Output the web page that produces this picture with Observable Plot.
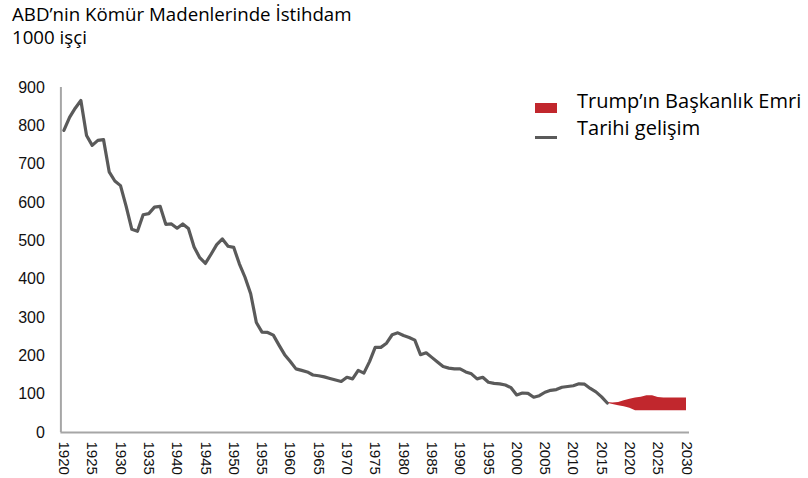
<!DOCTYPE html>
<html>
<head>
<meta charset="utf-8">
<script src="https://cdn.jsdelivr.net/npm/d3@7"></script>
<script src="https://cdn.jsdelivr.net/npm/@observablehq/plot@0.6"></script>
<style>
  html, body { margin: 0; padding: 0; background: #fff; }
  #wrap { position: relative; width: 808px; height: 478px; overflow: hidden; }
  #title { height: 60px; box-sizing: border-box; padding: 2px 0 0 12px; font-family: "Open Sans", sans-serif; font-size: 18.7px; line-height: 23px; color: #000; }
  #legend { position: absolute; left: 0; top: 0; pointer-events: none; }
</style>
</head>
<body>
<div id="wrap">
  <div id="title">ABD’nin Kömür Madenlerinde İstihdam<br>1000 işçi</div>
  <div id="chart"></div>
  <svg id="legend" width="808" height="478"></svg>
</div>
<script>
// Historical coal mining employment (thousands), 1920–2016
const histYears = d3.range(1920, 2017);
const histValues = [
  788, 822, 846, 866, 775, 749, 762, 764, 680, 656,
  644, 590, 530, 525, 568, 571, 588, 590, 543, 544,
  533, 544, 532, 484, 456, 441, 465, 490, 505, 486,
  483, 440, 405, 362, 287, 262, 261, 254, 228, 203,
  185, 166, 162, 158, 150, 148, 145, 141, 137, 133,
  144, 140, 162, 155, 185, 222, 222, 233, 255, 260,
  253, 248, 241, 203, 208, 196, 184, 172, 168, 166,
  166, 158, 153, 140, 144, 131, 128, 127, 124, 117,
  98, 103, 102, 92, 96, 105, 110, 112, 118, 120,
  122, 127, 126, 115, 106, 93, 77
];
// Projection band under the executive order
const bandYears = [2016, 2017, 2018, 2019, 2020, 2021, 2022, 2023, 2024, 2025, 2026, 2027, 2028, 2029, 2030];
const bandLow   = [76, 73, 70, 67, 63, 57, 57, 57, 57, 57, 57, 57, 57, 57, 57];
const bandHigh  = [78, 77, 78, 83, 87, 90, 92, 96, 96, 91, 90, 90, 90, 90, 90];
const yTicks = [0, 100, 200, 300, 400, 500, 600, 700, 800, 900];
const xTicks = [1920, 1925, 1930, 1935, 1940, 1945, 1950, 1955, 1960, 1965, 1970, 1975, 1980, 1985, 1990, 1995, 2000, 2005, 2010, 2015, 2020, 2025, 2030];
const legendLabels = ["Trump’ın Başkanlık Emri", "Tarihi gelişim"];

const hist = histYears.map((year, i) => ({year, value: histValues[i]}));
const band = bandYears.map((year, i) => ({year, low: bandLow[i], high: bandHigh[i]}));

const axisColor = "#a6a6a6";
const lineColor = "#5a5a5a";
const red = "#c1272d";

const chart = Plot.plot({
  width: 808,
  height: 418,
  marginTop: 27,
  marginBottom: 46,
  marginLeft: 63.4,
  marginRight: 122,
  style: {fontFamily: "'Liberation Sans', Arial, sans-serif", color: "#111", background: "#fff"},
  x: {domain: [1920, 2030]},
  y: {domain: [0, 900]},
  marks: [
    Plot.axisY({ticks: yTicks, tickSize: 0, tickPadding: 19, fontSize: 16, label: null}),
    Plot.axisX({ticks: xTicks, tickSize: 0, tickPadding: 9, tickRotate: 90, fontSize: 15, label: null, tickFormat: d => String(d)}),
    Plot.ruleY([0], {stroke: axisColor, strokeWidth: 2, insetLeft: -3, insetRight: -3}),
    Plot.ruleX([1920], {y1: 0, y2: 900, dx: -3, stroke: axisColor, strokeWidth: 2}),
    Plot.areaY(band, {x: "year", y1: "low", y2: "high", fill: red}),
    Plot.lineY(hist, {x: "year", y: "value", stroke: lineColor, strokeWidth: 3.2, strokeLinejoin: "round"})
  ]
});
document.getElementById("chart").appendChild(chart);

// Legend overlay
const lg = d3.select("#legend");
lg.append("rect").attr("x", 535).attr("y", 103).attr("width", 22).attr("height", 10).attr("fill", red);
lg.append("rect").attr("x", 535).attr("y", 136).attr("width", 22).attr("height", 3).attr("fill", lineColor);
lg.selectAll("text.lab").data(legendLabels).join("text")
  .attr("class", "lab")
  .attr("x", 577)
  .attr("y", (d, i) => i === 0 ? 108 : 135)
  .attr("font-family", "'Open Sans', sans-serif")
  .attr("font-size", 20)
  .attr("fill", "#000")
  .text(d => d);
</script>
</body>
</html>
